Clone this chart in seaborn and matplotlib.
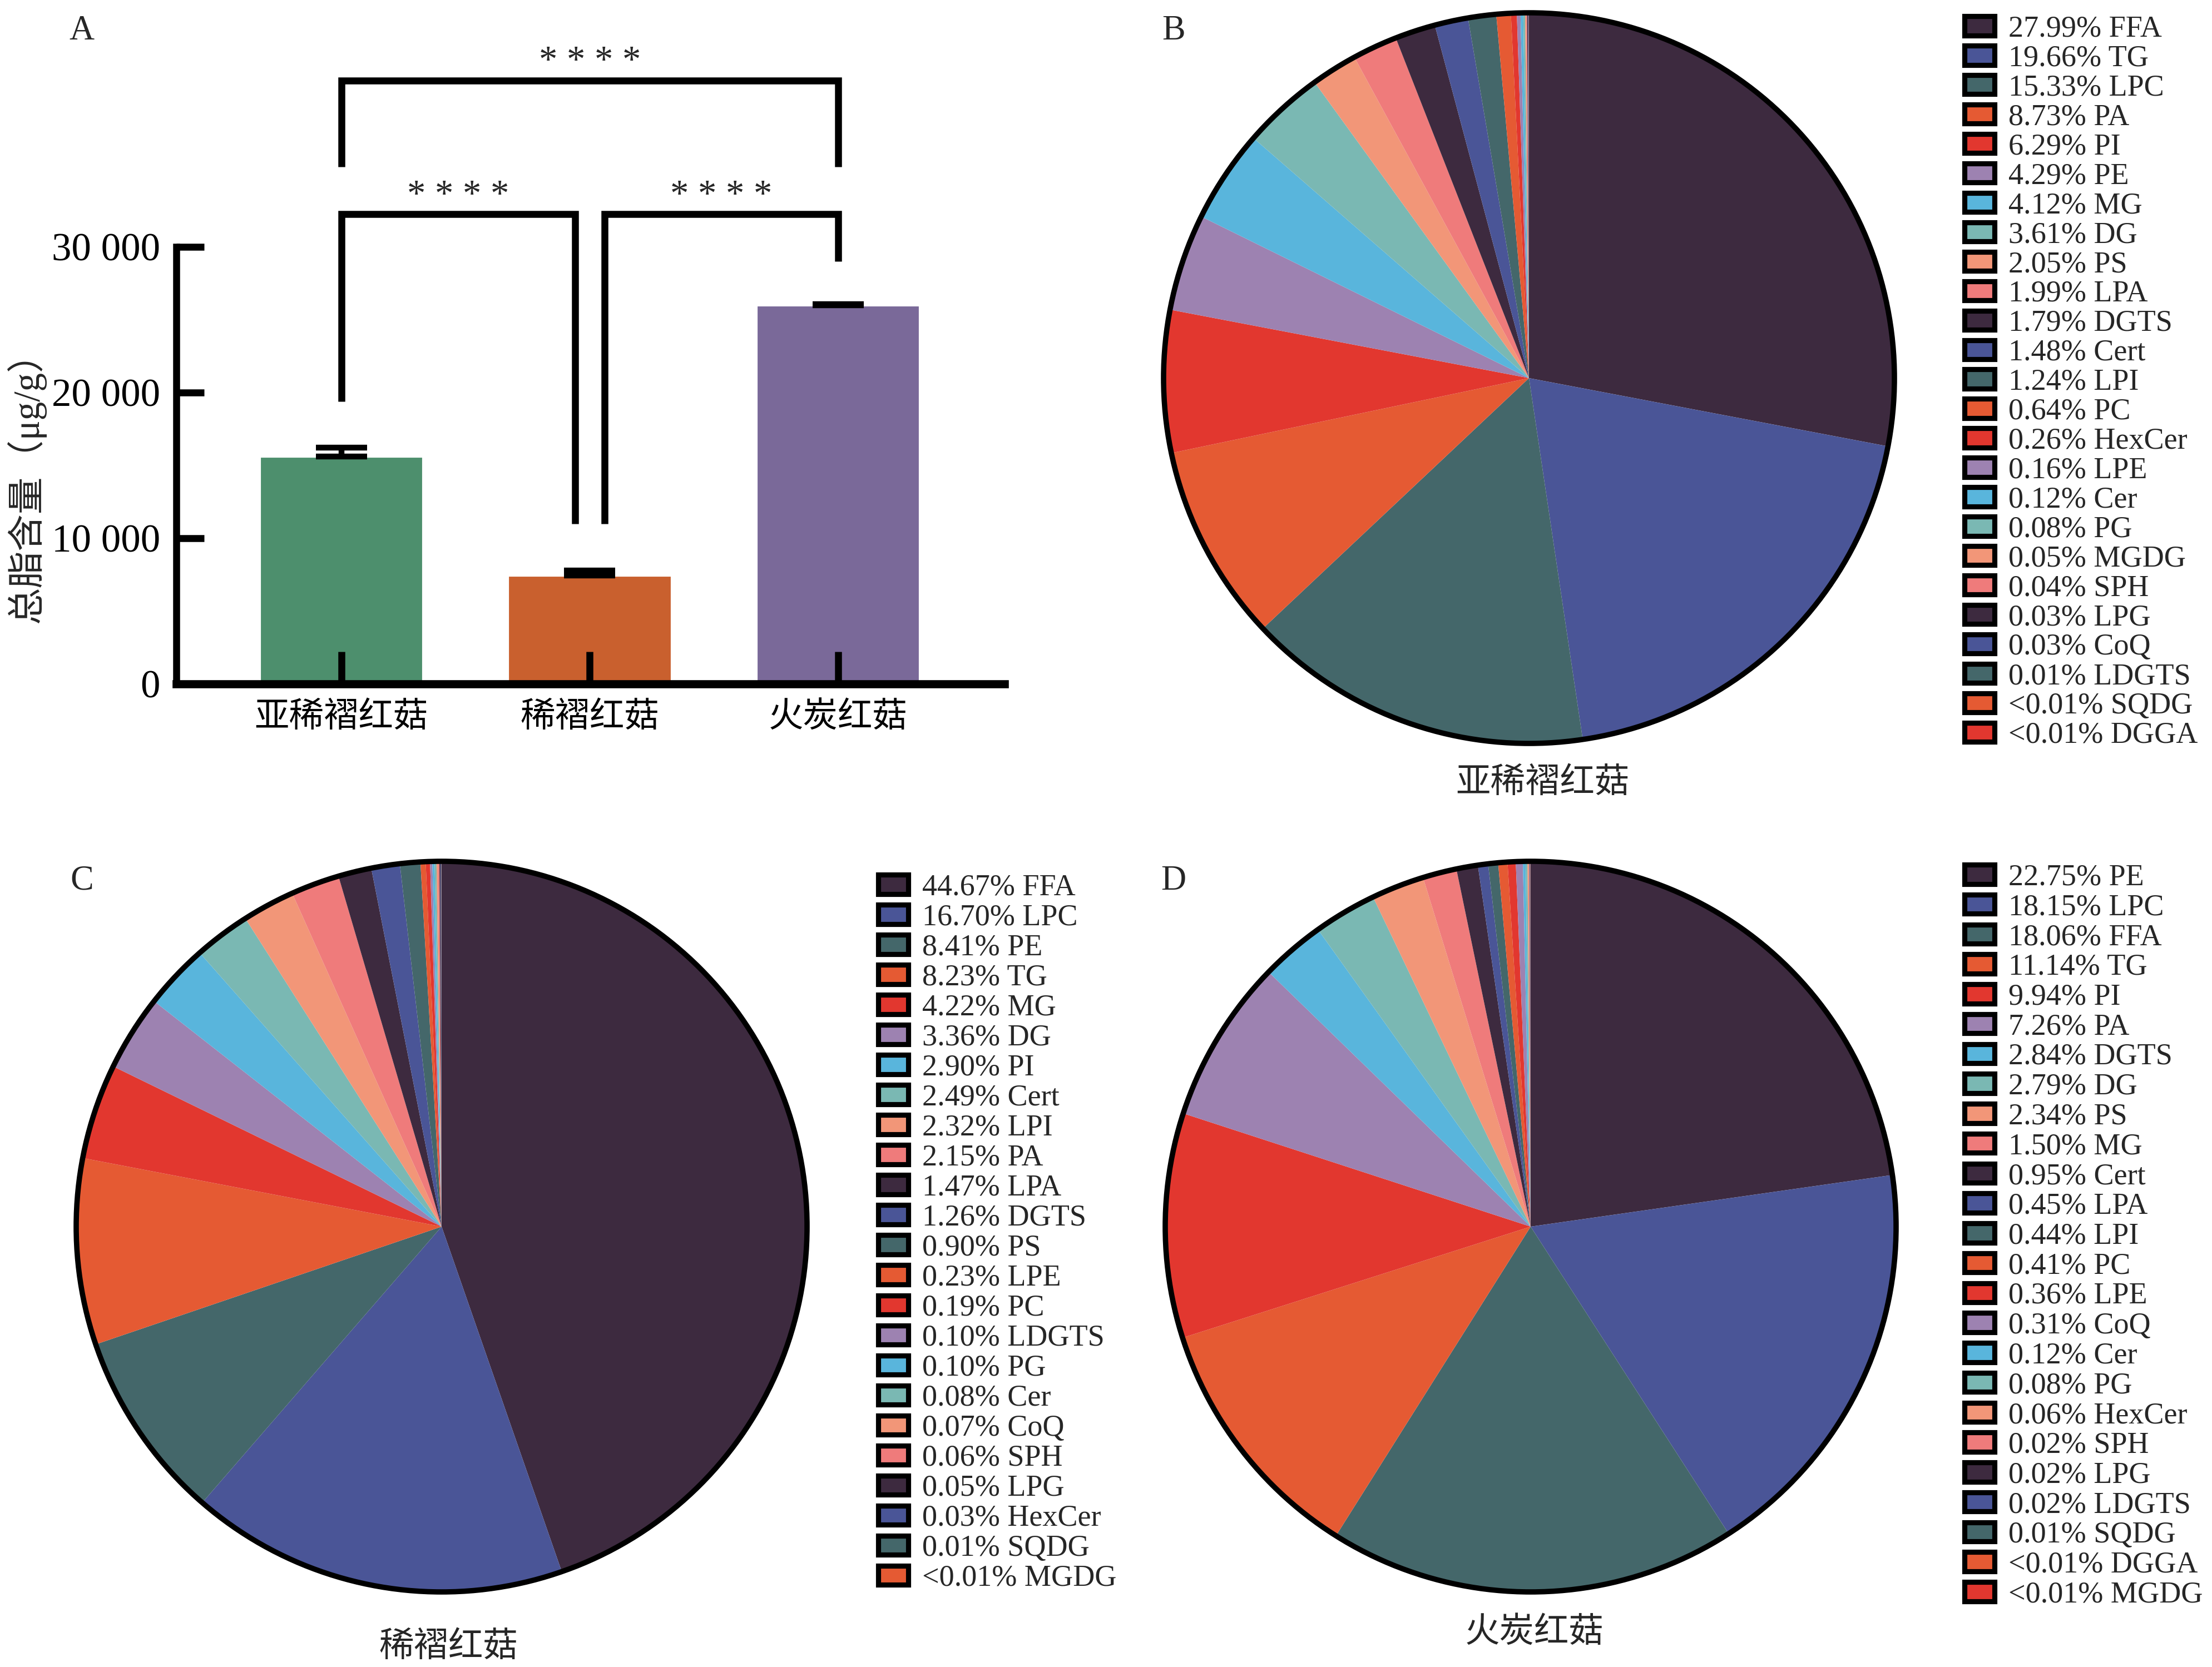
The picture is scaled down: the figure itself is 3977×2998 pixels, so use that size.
import numpy as np
import pandas as pd
import seaborn as sns
import matplotlib.pyplot as plt
from matplotlib.patches import Patch, Circle

# panel A data
groups = ['亚稀褶红菇', '稀褶红菇', '火炭红菇']
totals = [15600, 7450, 25980]
errs = [600, 330, 100]
bar_colors = ['#4d8f6d', '#c9602e', '#7a6999']

# pie data (percent)
b_names = ['FFA', 'TG', 'LPC', 'PA', 'PI', 'PE', 'MG', 'DG', 'PS', 'LPA', 'DGTS', 'Cert', 'LPI',
           'PC', 'HexCer', 'LPE', 'Cer', 'PG', 'MGDG', 'SPH', 'LPG', 'CoQ', 'LDGTS', 'SQDG', 'DGGA']
b_vals = [27.99, 19.66, 15.33, 8.73, 6.29, 4.29, 4.12, 3.61, 2.05, 1.99, 1.79, 1.48, 1.24,
          0.64, 0.26, 0.16, 0.12, 0.08, 0.05, 0.04, 0.03, 0.03, 0.01, 0.005, 0.005]

c_names = ['FFA', 'LPC', 'PE', 'TG', 'MG', 'DG', 'PI', 'Cert', 'LPI', 'PA', 'LPA', 'DGTS', 'PS',
           'LPE', 'PC', 'LDGTS', 'PG', 'Cer', 'CoQ', 'SPH', 'LPG', 'HexCer', 'SQDG', 'MGDG']
c_vals = [44.67, 16.70, 8.41, 8.23, 4.22, 3.36, 2.90, 2.49, 2.32, 2.15, 1.47, 1.26, 0.90,
          0.23, 0.19, 0.10, 0.10, 0.08, 0.07, 0.06, 0.05, 0.03, 0.01, 0.005]

d_names = ['PE', 'LPC', 'FFA', 'TG', 'PI', 'PA', 'DGTS', 'DG', 'PS', 'MG', 'Cert', 'LPA', 'LPI',
           'PC', 'LPE', 'CoQ', 'Cer', 'PG', 'HexCer', 'SPH', 'LPG', 'LDGTS', 'SQDG', 'DGGA', 'MGDG']
d_vals = [22.75, 18.15, 18.06, 11.14, 9.94, 7.26, 2.84, 2.79, 2.34, 1.50, 0.95, 0.45, 0.44,
          0.41, 0.36, 0.31, 0.12, 0.08, 0.06, 0.02, 0.02, 0.02, 0.01, 0.005, 0.005]

pie_cols = ['#3d2a3f', '#4a5597', '#44676a', '#e55a33', '#e2372f',
            '#9d82b1', '#59b5dc', '#7ab8b3', '#f29678', '#ef7b7b']

sns.set_style('white')
plt.rcParams['font.family'] = ['Liberation Serif', 'Noto Sans CJK SC']
plt.rcParams['axes.unicode_minus'] = False

W, H = 3977, 2998
fig = plt.figure(figsize=(W / 300, H / 300), dpi=300)


def fy(py):
    return 1 - py / H


#%% panel A
axA = fig.add_axes([317 / W, fy(1230), (1806 - 317) / W, (1230 - 77) / H])
df = pd.DataFrame({'group': groups, 'total': totals})
sns.barplot(data=df, x='group', y='total', hue='group', palette=bar_colors, saturation=1,
            width=0.66, legend=False, ax=axA, errorbar=None)
axA.errorbar(range(3), totals, yerr=[[0, 0, 0], errs], fmt='none', ecolor='k',
             elinewidth=2.5, capsize=11, capthick=2.5)
axA.set_axisbelow(False)
axA.set_xlim(-0.665, 2.67)
axA.set_ylim(0, 44000)
for s in ['top', 'right']:
    axA.spines[s].set_visible(False)
axA.spines['left'].set_bounds(0, 30000)
axA.spines['left'].set_linewidth(3)
axA.spines['bottom'].set_linewidth(3.5)
axA.spines['left'].set_color('k')
axA.spines['bottom'].set_color('k')
axA.set_yticks([0, 10000, 20000, 30000])
axA.set_yticklabels(['0', '10 000', '20 000', '30 000'])
axA.tick_params(axis='y', direction='in', length=12, width=3, pad=7, labelsize=17, left=True, colors='k')
axA.tick_params(axis='x', direction='in', length=14, width=3, pad=8, labelsize=15, bottom=True, colors='k')
axA.set_xlabel('')
axA.set_ylabel('总脂含量（μg/g）', fontsize=16)
axA.yaxis.set_label_coords(-0.158, 0.32)

# significance brackets: x0, x1, left leg bottom, top, right leg bottom, star y
brackets = [(0, 2, 35500, 41400, 35500, 42700),
            (0, 0.94, 19400, 32240, 11000, 33500),
            (1.06, 2, 11000, 32240, 29000, 33500)]
for x0, x1, y0, yt, y1, ys in brackets:
    axA.plot([x0, x0, x1, x1], [y0, yt, yt, y1], color='k', lw=3, clip_on=False,
             solid_joinstyle='miter', solid_capstyle='butt')
    axA.text((x0 + x1) / 2, ys, '* * * *', ha='center', va='center', fontsize=16)

fig.text(147 / W, fy(56), 'A', ha='center', va='center', fontsize=15)


#%% pies
def pie_panel(cx, cy, vals, names, title, tpos, lpos, letter, lettpos, spacing):
    R = 657
    s = 1.1 * R
    ax = fig.add_axes([(cx - s) / W, fy(cy + s), 2 * s / W, 2 * s / H])
    cols = [pie_cols[i % 10] for i in range(len(vals))]
    ax.pie(vals, colors=cols, startangle=90, counterclock=False,
           wedgeprops=dict(linewidth=0))
    ax.add_patch(Circle((0, 0), 1, fill=False, lw=2.3, ec='k'))
    ax.set_xlim(-1.1, 1.1)
    ax.set_ylim(-1.1, 1.1)
    ax.axis('off')
    fig.text(tpos[0] / W, fy(tpos[1]), title, ha='center', va='center', fontsize=15)
    fig.text(lettpos[0] / W, fy(lettpos[1]), letter, ha='center', va='center', fontsize=15)
    handles = [Patch(facecolor=c, edgecolor='k', lw=2.2) for c in cols]
    labels = [('<0.01%' if v < 0.01 else f'{v:.2f}%') + ' ' + n for v, n in zip(vals, names)]
    fig.legend(handles, labels, loc='upper left', bbox_to_anchor=(lpos[0] / W, fy(lpos[1])),
               frameon=False, borderpad=0, borderaxespad=0, fontsize=13, labelspacing=spacing,
               handlelength=1.0, handleheight=0.6, handletextpad=0.45)


pie_panel(2749, 680, b_vals, b_names, '亚稀褶红菇', (2774, 1410), (3532, 27), 'B', (2110, 56), 0.045)
pie_panel(794, 2206, c_vals, c_names, '稀褶红菇', (806, 2964), (1579, 1571), 'C', (147, 1585), 0.065)
pie_panel(2752, 2206, d_vals, d_names, '火炭红菇', (2759, 2939), (3532, 1553), 'D', (2110, 1585), 0.06)

plt.savefig('out.png', dpi=300)
